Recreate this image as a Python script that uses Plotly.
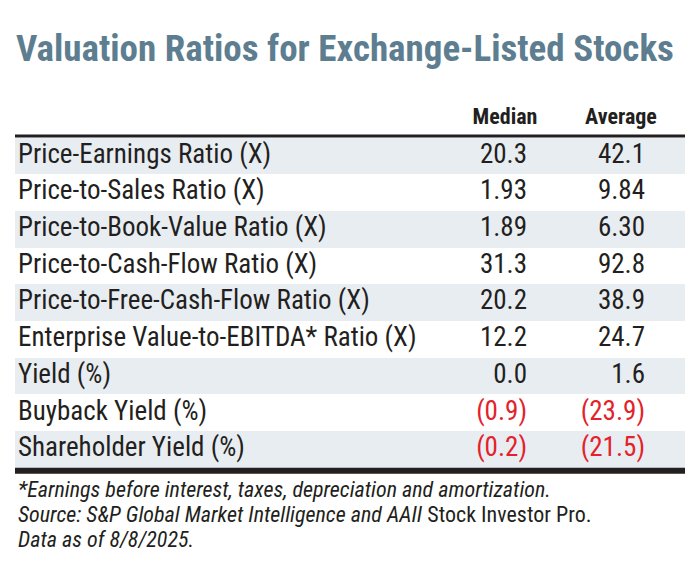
import plotly.graph_objects as go

# data
row_labels = [
    "Price-Earnings Ratio (X)",
    "Price-to-Sales Ratio (X)",
    "Price-to-Book-Value Ratio (X)",
    "Price-to-Cash-Flow Ratio (X)",
    "Price-to-Free-Cash-Flow Ratio (X)",
    "Enterprise Value-to-EBITDA* Ratio (X)",
    "Yield (%)",
    "Buyback Yield (%)",
    "Shareholder Yield (%)",
]
median_vals = [20.3, 1.93, 1.89, 31.3, 20.2, 12.2, 0.0, -0.9, -0.2]
average_vals = [42.1, 9.84, 6.30, 92.8, 38.9, 24.7, 1.6, -23.9, -21.5]
decimals = [1, 2, 2, 1, 1, 1, 1, 1, 1]
col_headers = ["Median", "Average"]

TITLE = "Valuation Ratios for Exchange-Listed Stocks"
NOTES = [
    "<i>*Earnings before interest, taxes, depreciation and amortization.</i>",
    "<i>Source: S&amp;P Global Market Intelligence and AAII</i> Stock Investor Pro.",
    "<i>Data as of 8/8/2025.</i>",
]

# page body has an 8px margin -> figure is 16px smaller than the window
OFF = 8
W, H = 684, 558
ROW_H = 36.7        # px per row
TABLE_TOP = 137.5   # px (window coords) where the first row starts
FONT = "Roboto Condensed, Roboto, sans-serif"
TXT = "#231f20"
RED = "#e3222b"
SHADE = "#e8edf2"
TITLE_COL = "#5d7e90"
LEFT, RIGHT = 15, 685
LABEL_X = 18
MED_X, AVG_X = 527, 645          # right edge of the value text
MED_HEAD_X, AVG_HEAD_X = 505, 621


def fmt(v, d):
    s = f"{abs(v):.{d}f}"
    return f"({s})" if v < 0 else s


n = len(row_labels)
rows = list(range(n))
med_txt = [fmt(v, d) for v, d in zip(median_vals, decimals)]
avg_txt = [fmt(v, d) for v, d in zip(average_vals, decimals)]
med_col = [RED if v < 0 else TXT for v in median_vals]
avg_col = [RED if v < 0 else TXT for v in average_vals]
fills = [SHADE if i % 2 == 0 else "white" for i in rows]

# y axis in row units, scaled so one row = ROW_H pixels
y_top = -0.5 - (TABLE_TOP - OFF) / ROW_H
y_bot = y_top + H / ROW_H

fig = go.Figure()

# row shading
fig.add_trace(go.Bar(
    y=rows, x=[RIGHT - LEFT] * n, base=LEFT, orientation="h", width=1,
    marker=dict(color=fills, line=dict(width=0)), hoverinfo="skip",
))

# labels
fig.add_trace(go.Scatter(
    x=[LABEL_X] * n, y=rows, text=row_labels, mode="text",
    textposition="middle right", hoverinfo="skip",
    textfont=dict(family=FONT, size=27, color=TXT),
))
# values
fig.add_trace(go.Scatter(
    x=[MED_X] * n, y=rows, text=med_txt, mode="text",
    textposition="middle left", hoverinfo="skip",
    textfont=dict(family=FONT, size=27, color=med_col),
))
fig.add_trace(go.Scatter(
    x=[AVG_X] * n, y=rows, text=avg_txt, mode="text",
    textposition="middle left", hoverinfo="skip",
    textfont=dict(family=FONT, size=27, color=avg_col),
))
# column titles
head_y = -0.5 - (TABLE_TOP - 118) / ROW_H
fig.add_trace(go.Scatter(
    x=[MED_HEAD_X, AVG_HEAD_X], y=[head_y, head_y],
    text=["<b>" + h + "</b>" for h in col_headers], mode="text",
    textposition="middle center", hoverinfo="skip",
    textfont=dict(family=FONT, size=22, color=TXT),
))

# rules
top_rule = -0.5 - 1.6 / ROW_H
bot_rule = n - 0.5 + 3 / ROW_H
fig.add_shape(type="line", xref="x", yref="y", x0=LEFT, x1=RIGHT, y0=top_rule, y1=top_rule,
              line=dict(color=TXT, width=3))
fig.add_shape(type="line", xref="x", yref="y", x0=LEFT, x1=RIGHT, y0=bot_rule, y1=bot_rule,
              line=dict(color=TXT, width=6))


def py(y):
    return 1 - (y - OFF) / H


fig.add_annotation(text="<b>" + TITLE + "</b>", xref="x", yref="paper",
                   x=14, y=py(48), xanchor="left", yanchor="middle", showarrow=False,
                   font=dict(family=FONT, size=37, color=TITLE_COL))

for i, note in enumerate(NOTES):
    fig.add_annotation(text=note, xref="x", yref="paper",
                       x=16, y=py(489 + 25 * i), xanchor="left", yanchor="middle",
                       showarrow=False, font=dict(family=FONT, size=22, color=TXT))

fig.update_layout(
    width=W, height=H,
    margin=dict(l=0, r=0, t=0, b=0),
    paper_bgcolor="white",
    plot_bgcolor="white",
    showlegend=False,
    bargap=0,
    xaxis=dict(range=[OFF, OFF + W], visible=False, fixedrange=True),
    yaxis=dict(range=[y_bot, y_top], visible=False, fixedrange=True),
)

fig.write_html("out.html")
